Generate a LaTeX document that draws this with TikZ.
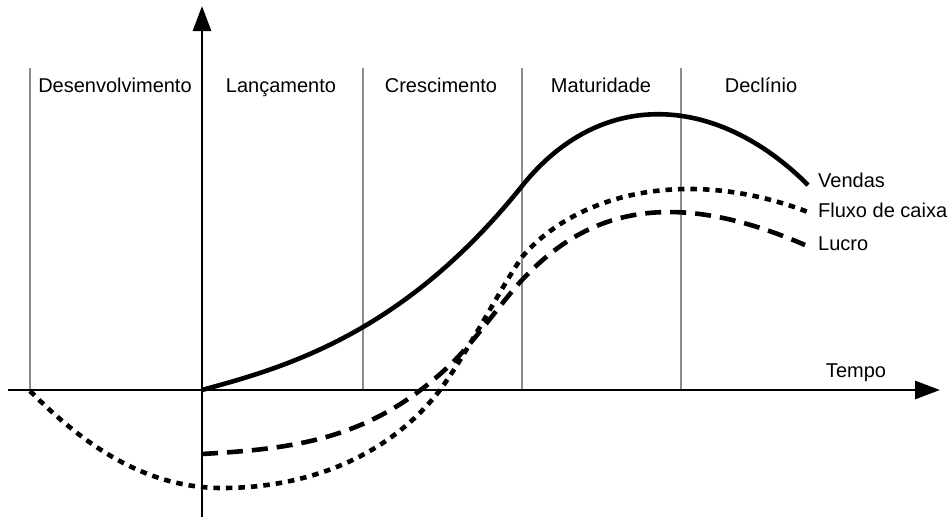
\documentclass[tikz,border=0pt]{standalone}
\usepackage{fontspec}
\setmainfont{Liberation Sans}
\usetikzlibrary{arrows.meta}
\begin{document}
\begin{tikzpicture}[x=1pt,y=-1pt,
  axis/.style={line width=2.9pt,-{Triangle[length=25pt,width=18pt]}},
  phase/.style={line width=2.2pt,draw=black!45},
  lbl/.style={font=\fontsize{20}{23}\selectfont,inner sep=0pt,anchor=base},
  curve/.style={line width=4.6pt},
  dotline/.style={curve,dash pattern=on 6.5pt off 6pt},
  dashline/.style={curve,dash pattern=on 16pt off 9pt}]
\useasboundingbox (0,0) rectangle (952,517);
% phase separators
\foreach \n/\x in {a/30,b/363,c/522,d/681}{
  \coordinate (top\n) at (\x,68);
  \coordinate (bot\n) at (\x,390);
  \draw[phase] (top\n) -- (bot\n);
}
% axes
\coordinate (ybot) at (202,517);
\coordinate (ytop) at (202,6);
\coordinate (xleft) at (8,390);
\coordinate (xright) at (940,390);
\draw[axis] (ybot) -- (ytop);
\draw[axis] (xleft) -- (xright);
% phase labels
\node[lbl] (l1) at (115,92) {Desenvolvimento};
\node[lbl] (l2) at (281,92) {Lançamento};
\node[lbl] (l3) at (441,92) {Crescimento};
\node[lbl] (l4) at (601,92) {Maturidade};
\node[lbl] (l5) at (761,92) {Declínio};
\node[lbl] (tempo) at (856,377) {Tempo};
% curves
\draw[curve] (202,390) .. controls (282,368) and (402,336) .. (522,186)
  .. controls (602,86) and (718,95) .. (808,185);
\draw[dotline] (30,391) .. controls (80,441) and (142,488) .. (222,488)
  .. controls (310,488) and (390,455) .. (440,390)
  .. controls (468,352) and (497,294) .. (522,257)
  .. controls (577,193) and (688,166) .. (808,212);
\draw[dashline] (202,454) .. controls (292,448.6) and (370,441) .. (450,365)
  .. controls (475,341) and (500,304) .. (522,280)
  .. controls (580,218) and (660,182) .. (805,245);
% curve labels
\node[lbl,anchor=base west] (vendas) at (818,187) {Vendas};
\node[lbl,anchor=base west] (fluxo) at (818,217) {Fluxo de caixa};
\node[lbl,anchor=base west] (lucro) at (818,250) {Lucro};
\end{tikzpicture}
\end{document}
